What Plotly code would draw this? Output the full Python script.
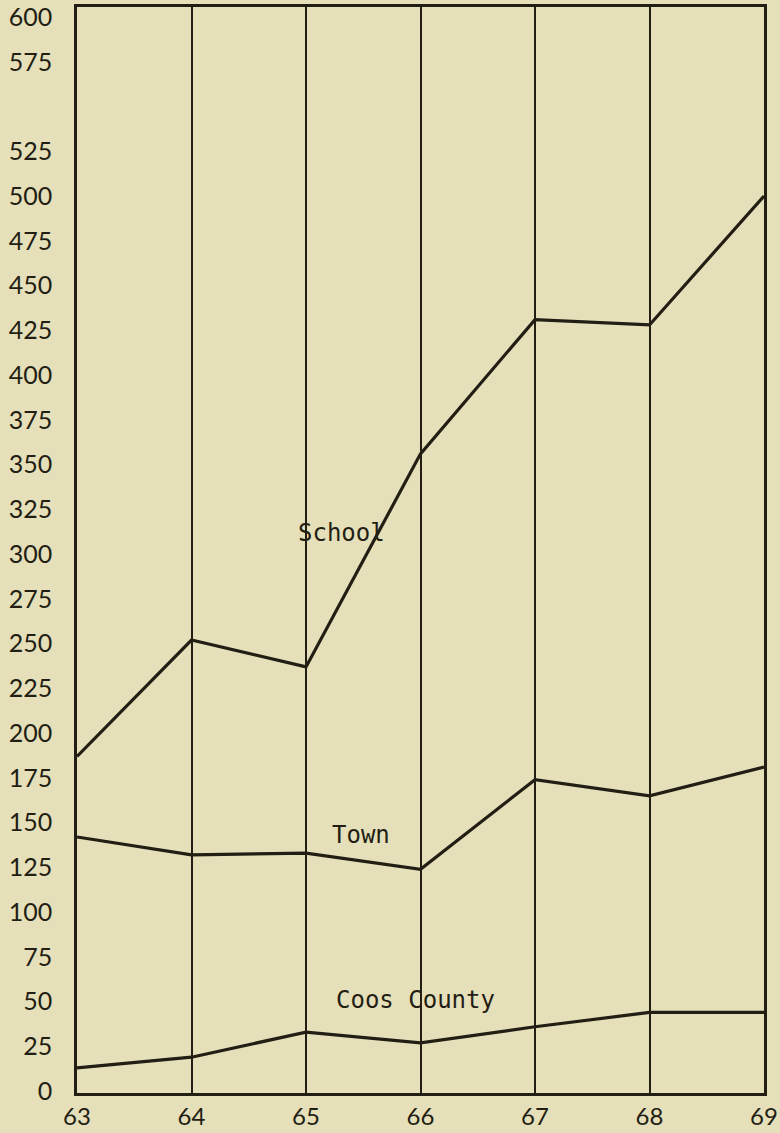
import plotly.graph_objects as go

years = [63, 64, 65, 66, 67, 68, 69]
school = [187, 252, 237, 356, 431, 428, 500]
town = [142, 132, 133, 124, 174, 165, 181]
coos = [13, 19, 33, 27, 36, 44, 44]

y_ticks = [0, 25, 50, 75, 100, 125, 150, 175, 200, 225, 250, 275, 300,
           325, 350, 375, 400, 425, 450, 475, 500, 525, 575, 600]
x_ticks = ["63", "64", "65", "66", "67", "68", "69"]

labels = [("School", 65.31, 312), ("Town", 65.48, 143), ("Coos County", 65.96, 51)]

bg = "#e6e0ba"
ink = "#221e14"

fig = go.Figure()
for name, vals in [("School", school), ("Town", town), ("Coos County", coos)]:
    fig.add_trace(go.Scatter(x=years, y=vals, mode="lines", name=name,
                             line=dict(color=ink, width=3.2), showlegend=False))

for text, lx, ly in labels:
    fig.add_annotation(x=lx, y=ly, text=text, showarrow=False,
                       font=dict(family="DejaVu Sans Mono", size=24, color=ink))

fig.update_layout(
    width=780, height=1133,
    margin=dict(l=77, r=16, t=7, b=40),
    paper_bgcolor=bg, plot_bgcolor=bg,
    font=dict(family="Lato", size=25, color=ink),
)
fig.update_xaxes(range=[63, 69], tickvals=years, ticktext=x_ticks,
                 showgrid=True, gridcolor=ink, gridwidth=2,
                 showline=True, linecolor=ink, linewidth=2.5, mirror=True,
                 zeroline=False, ticks="", tickfont=dict(size=24),
                 automargin=False)
fig.update_yaxes(range=[-1.0, 605.6], tickvals=y_ticks,
                 showgrid=False, showline=True, linecolor=ink, linewidth=2.5,
                 mirror=True, zeroline=False, ticks="outside", ticklen=17,
                 tickcolor=bg, tickfont=dict(size=25), automargin=False)

fig.write_html("out.html",
               config={"displayModeBar": False},
               post_script="document.body.style.margin='0px';"
                           "document.body.style.background='%s';" % bg)
